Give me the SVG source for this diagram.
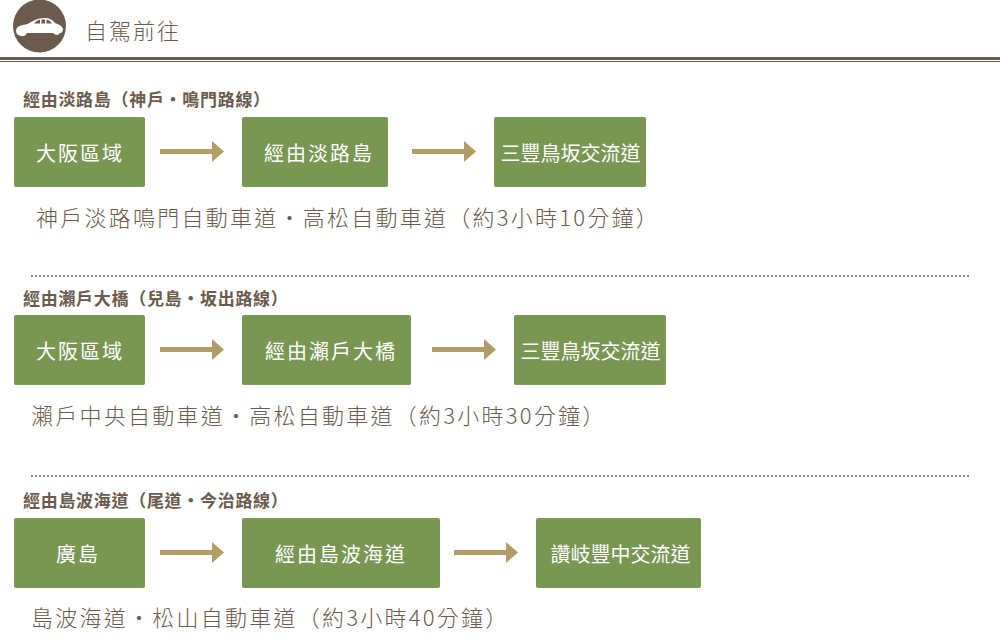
<svg xmlns="http://www.w3.org/2000/svg" width="1000" height="638" viewBox="0 0 1000 638">
<defs>
<marker id="head" markerUnits="userSpaceOnUse" markerWidth="12" markerHeight="21" refX="0" refY="10.500" orient="auto"><path d="M0 0L12 10.500L0 21Z" fill="#b29d69"/></marker>
</defs>
<style>
text{font-family:"Noto Sans CJK TC","Noto Sans",sans-serif}
.box{fill:#7a9653}
.bl{fill:#fff;font-size:20px;letter-spacing:2px;text-anchor:middle;dominant-baseline:central}
.tight{letter-spacing:0}
.sec{fill:#6b5a4e;font-size:17px;font-weight:700;letter-spacing:.7px}
.desc{fill:#6b5a4e;font-size:22px;letter-spacing:2.250px;font-weight:300}
.dot{stroke:#6b5a4e;stroke-width:2;stroke-dasharray:0 4;stroke-linecap:round}
.arr{stroke:#b29d69;stroke-width:5;marker-end:url(#head)}
</style>
<rect width="1000" height="638" fill="#fff"/>
<g id="header">
<circle cx="39.500" cy="26" r="26.500" fill="#6b5a4e"/>
<!-- car silhouette with side windows -->
<path d="M16 31Q16 26 23 25Q29 24 33 21Q38 18 45 18Q51 18 55 23Q62 25 63 29Q63 33 60 33Q57 37 53 33L27 33Q25 37 21 36Q16 35 16 31Z" fill="#fff"/>
<path d="M34 23.500Q37 20 40 19.500L40 23.500ZM41.500 19.500L45 19.500L45 23.500L41.500 23.500ZM46.500 19.500Q50 20 52 23.500L46.500 23.500Z" fill="#6b5a4e"/>
<text x="85" y="39" fill="#6b5a4e" font-size="22" font-weight="300" letter-spacing="2">自駕前往</text>
<rect x="0" y="57" width="1000" height="3" fill="#6b5a4e"/>
<rect x="0" y="61" width="1000" height="1" fill="#6b5a4e"/>
</g>
<g id="connectors">
<path class="arr" d="M160 151.500H212"/><path class="arr" d="M412 151.500H464"/>
<path class="arr" d="M160 349.500H212"/><path class="arr" d="M432 349.500H484"/>
<path class="arr" d="M160 552.500H212"/><path class="arr" d="M454 552.500H506"/>
</g>
<g id="route1">
<text class="sec" x="23" y="106">經由淡路島（神戶・鳴門路線）</text>
<g id="n1a"><rect class="box" x="14" y="117" width="131" height="70" rx="2"/><text class="bl" x="80" y="152">大阪區域</text></g>
<g id="n1b"><rect class="box" x="242" y="117" width="146" height="70" rx="2"/><text class="bl" x="319" y="152">經由淡路島</text></g>
<g id="n1c"><rect class="box" x="494" y="117" width="152" height="70" rx="2"/><text class="bl tight" x="570.500" y="152">三豐鳥坂交流道</text></g>
<text class="desc" x="36" y="226">神戶淡路鳴門自動車道・高松自動車道（約3小時10分鐘）</text>
</g>
<line class="dot" x1="32" y1="276" x2="972" y2="276"/>
<g id="route2">
<text class="sec" x="23" y="305">經由瀨戶大橋（兒島・坂出路線）</text>
<g id="n2a"><rect class="box" x="14" y="315" width="131" height="70" rx="2"/><text class="bl" x="80" y="350">大阪區域</text></g>
<g id="n2b"><rect class="box" x="242" y="315" width="169" height="70" rx="2"/><text class="bl" x="331" y="350">經由瀨戶大橋</text></g>
<g id="n2c"><rect class="box" x="514" y="315" width="152" height="70" rx="2"/><text class="bl tight" x="590.500" y="350">三豐鳥坂交流道</text></g>
<text class="desc" x="31" y="424">瀨戶中央自動車道・高松自動車道（約3小時30分鐘）</text>
</g>
<line class="dot" x1="32" y1="476" x2="972" y2="476"/>
<g id="route3">
<text class="sec" x="23" y="507">經由島波海道（尾道・今治路線）</text>
<g id="n3a"><rect class="box" x="14" y="518" width="131" height="70" rx="2"/><text class="bl" x="78" y="553">廣島</text></g>
<g id="n3b"><rect class="box" x="242" y="518" width="198" height="70" rx="2"/><text class="bl" x="341" y="553">經由島波海道</text></g>
<g id="n3c"><rect class="box" x="536" y="518" width="165" height="70" rx="2"/><text class="bl tight" x="620.500" y="553">讚岐豐中交流道</text></g>
<text class="desc" x="31" y="626">島波海道・松山自動車道（約3小時40分鐘）</text>
</g>
</svg>
